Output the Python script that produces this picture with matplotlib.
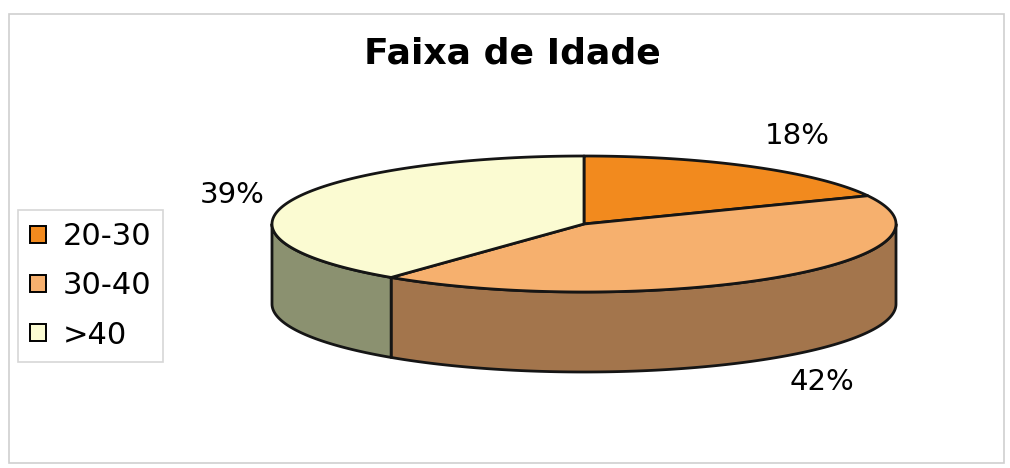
import numpy as np
import matplotlib.pyplot as plt
from matplotlib.patches import Polygon, Patch, Rectangle

# Age bracket distribution
faixas = ['20-30', '30-40', '>40']
percentuais = [18, 42, 39]

cores_topo = ['#F28A1E', '#F6B06E', '#FBFBD2']
cores_lado = ['#B5661C', '#A3754C', '#8B9170']
cor_linha = '#151515'

# Pie geometry in pixel units (tilted disc)
cx, cy = 584, 224
rx, ry = 312, 68
altura = 80


def ponto(theta):
    # theta in degrees, clockwise from 12 o'clock
    t = np.radians(theta)
    return cx + rx * np.sin(t), cy - ry * np.cos(t)


fig = plt.figure(figsize=(10.1, 4.68), dpi=100)
ax = fig.add_axes([0, 0, 1, 1])
ax.set_xlim(0, 1010)
ax.set_ylim(468, 0)
ax.axis('off')

# chart area border
ax.add_patch(Rectangle((9, 14), 995, 449, fill=False, ec='#cfcfcf', lw=1.2))

frac = np.array(percentuais) / sum(percentuais)
limites = np.concatenate([[0], np.cumsum(frac) * 360])

# outer walls, only the part facing the viewer
for i in range(len(percentuais)):
    lo = max(limites[i], 90)
    hi = min(limites[i + 1], 270)
    if hi <= lo:
        continue
    th = np.linspace(lo, hi, 150)
    xs, ys = ponto(th)
    pts = list(zip(xs, ys)) + list(zip(xs[::-1], ys[::-1] + altura))
    ax.add_patch(Polygon(pts, closed=True, fc=cores_lado[i], ec=cor_linha,
                         lw=2.0, joinstyle='round'))

# top faces
for i in range(len(percentuais)):
    th = np.linspace(limites[i], limites[i + 1], 200)
    xs, ys = ponto(th)
    pts = [(cx, cy)] + list(zip(xs, ys))
    ax.add_patch(Polygon(pts, closed=True, fc=cores_topo[i], ec=cor_linha,
                         lw=2.0, joinstyle='round'))

# percentage labels
pos_rotulos = [(797, 136), (822, 382), (232, 195)]
for p, (x, y) in zip(percentuais, pos_rotulos):
    ax.text(x, y, f'{p}%', fontsize=21, ha='center', va='center')

ax.text(512, 53, 'Faixa de Idade', fontsize=26, fontweight='bold',
        ha='center', va='center')

handles = [Patch(fc=c, ec='black', lw=1.4) for c in cores_topo]
leg = ax.legend(handles, faixas, loc='upper left',
                bbox_to_anchor=(18, 210), bbox_transform=ax.transData,
                fontsize=22, frameon=True, fancybox=False, borderaxespad=0,
                handlelength=0.5, handleheight=0.5, handletextpad=0.55,
                labelspacing=0.66, borderpad=0.4)
leg.get_frame().set_edgecolor('#cccccc')
leg.get_frame().set_linewidth(1.2)

fig.savefig('out.png', dpi=100)
